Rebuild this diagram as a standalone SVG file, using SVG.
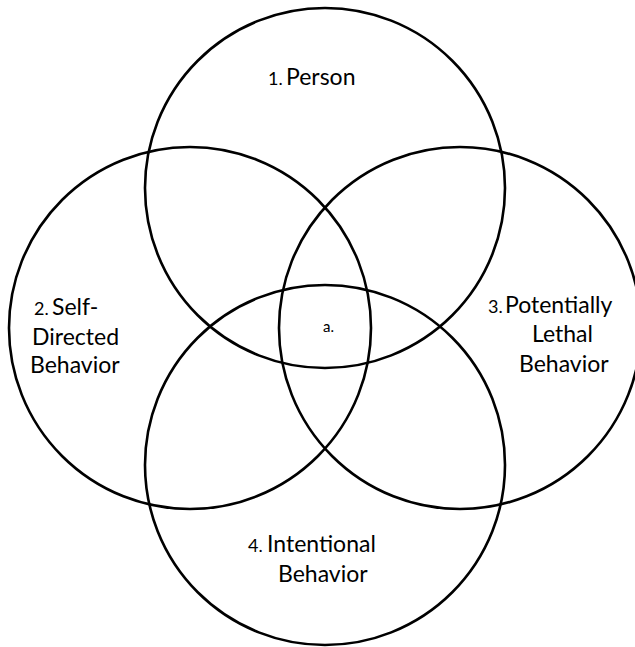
<svg xmlns="http://www.w3.org/2000/svg" width="635" height="647" viewBox="0 0 635 647">
  <style>
    .set { fill: none; stroke: #000; stroke-width: 2.6; }
    .lbl { font-family: Lato, "Open Sans", "Liberation Sans", sans-serif; font-size: 23px; fill: #000; }
    .num { font-size: 18px; }
    .small { font-family: Lato, "Open Sans", "Liberation Sans", sans-serif; font-size: 15px; fill: #000; }
  </style>
  <rect width="635" height="647" fill="#fff"/>

  <!-- four overlapping sets -->
  <g id="set-person">
    <circle class="set" cx="325" cy="188" r="180"/>
    <text class="lbl" x="268" y="85"><tspan class="num">1.</tspan><tspan x="286">Person</tspan></text>
  </g>
  <g id="set-self-directed">
    <circle class="set" cx="190" cy="328" r="181"/>
    <text class="lbl" x="34" y="315"><tspan class="num">2.</tspan><tspan x="52">Self-</tspan></text>
    <text class="lbl" x="32" y="345">Directed</text>
    <text class="lbl" x="30" y="373">Behavior</text>
  </g>
  <g id="set-potentially-lethal">
    <circle class="set" cx="460" cy="328" r="181"/>
    <text class="lbl" x="488" y="313"><tspan class="num">3.</tspan><tspan x="505">Potentially</tspan></text>
    <text class="lbl" x="532" y="342">Lethal</text>
    <text class="lbl" x="519" y="372">Behavior</text>
  </g>
  <g id="set-intentional">
    <circle class="set" cx="325" cy="465" r="180"/>
    <text class="lbl" x="248" y="552"><tspan class="num">4.</tspan><tspan x="267">Intentional</tspan></text>
    <text class="lbl" x="278" y="582">Behavior</text>
  </g>

  <!-- central intersection label -->
  <g id="region-a">
    <text class="small" x="323" y="332">a.</text>
  </g>
</svg>
